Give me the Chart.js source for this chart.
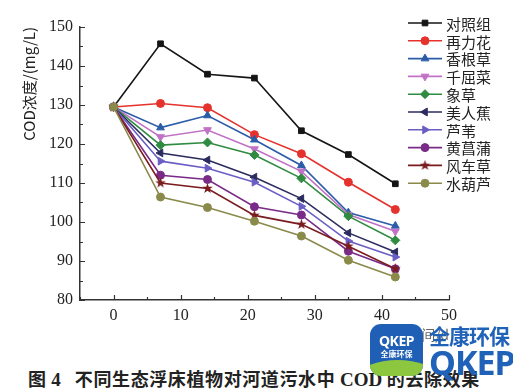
<!DOCTYPE html>
<html>
<head>
<meta charset="utf-8">
<script src="https://cdn.jsdelivr.net/npm/chart.js@4.4.1/dist/chart.umd.min.js"></script>
<style>
  body { margin: 0; background: #fff; }
  #wrap { position: relative; width: 513px; height: 390px; overflow: hidden; }
  #chart { position: absolute; left: 0; top: 0; }
  #caption { position: absolute; left: 28px; top: 365px; font-size: 18px; font-weight: bold; color: #222; white-space: nowrap;
    font-family: "Noto Sans CJK SC", sans-serif; letter-spacing: 0.6px; }
  #caption .n { font-family: "Liberation Serif", serif; font-size: 19px; letter-spacing: 0; }
  #logo { position: absolute; left: 370px; top: 324px; width: 53px; height: 52px; border-radius: 11px; overflow: hidden;
    background: #1f5fb5; font-family: "Noto Sans", sans-serif; color: #fff; text-align: center; }
  #logo .g { position: absolute; left: -10px; top: 36px; width: 75px; height: 30px; border-radius: 50% 50% 0 0; background: #8dc63f; }
  #logo .a { position: absolute; left: 0; width: 53px; top: 7px; font-size: 14px; font-weight: bold; letter-spacing: -0.5px; }
  #logo .b { position: absolute; left: 0; width: 53px; top: 24px; font-size: 8px; font-weight: bold; font-family: "Noto Sans CJK SC", sans-serif; }
  #brand1 { position: absolute; left: 429px; top: 320px; font-size: 21px; font-weight: bold; color: #1f62b8; font-family: "Noto Sans CJK SC", sans-serif; letter-spacing: -1px; }
  #brand2 { position: absolute; left: 429px; top: 339px; font-size: 34px; font-weight: bold; color: #1f62b8; font-family: "Noto Sans", sans-serif; letter-spacing: -1px; }
</style>
</head>
<body>
<div id="wrap">
  <canvas id="chart" width="513" height="346"></canvas>
  <div id="caption">图 <span class="n">4</span>&nbsp;&nbsp;&nbsp;不同生态浮床植物对河道污水中 <span class="n">COD</span> 的去除效果</div>
  <div id="logo"><div class="g"></div><div class="a">QKEP</div><div class="b">全康环保</div></div>
  <div id="brand1">全康环保</div>
  <div id="brand2">QKEP</div>
</div>
<script>
const ctx = document.getElementById('chart');

// sampling days
const days = [0, 7, 14, 21, 28, 35, 42];

const names = ['对照组', '再力花', '香根草', '千屈菜', '象草', '美人蕉', '芦苇', '黄菖蒲', '风车草', '水葫芦'];

// COD (mg/L)
const control   = [129.5, 145.7, 137.9, 136.9, 123.4, 117.3, 109.8];
const zailihua  = [129.5, 130.4, 129.3, 122.4, 117.5, 110.2, 103.2];
const xianggen  = [129.5, 124.2, 127.3, 121.1, 114.5, 102.4, 99.0];
const qianqu    = [129.5, 121.8, 123.6, 118.7, 113.0, 101.9, 97.6];
const xiangcao  = [129.5, 119.7, 120.4, 117.2, 111.2, 101.5, 95.3];
const meirenjiao = [129.5, 117.7, 115.9, 111.5, 106.0, 97.2, 92.3];
const luwei     = [129.5, 115.6, 113.8, 110.2, 104.0, 95.1, 91.0];
const huangchangpu = [129.5, 112.0, 110.9, 103.9, 101.8, 92.5, 88.0];
const fengche   = [129.5, 110.0, 108.6, 101.7, 99.4, 93.8, 88.0];
const shuihulu  = [129.5, 106.4, 103.7, 100.2, 96.4, 90.2, 85.9];

const series = [control, zailihua, xianggen, qianqu, xiangcao, meirenjiao, luwei, huangchangpu, fengche, shuihulu];
const colors = ['#151515', '#e5322d', '#2b5ca8', '#c172c6', '#2f8b40', '#2b2c5e', '#6a5ec4', '#7a2b87', '#7a1b1e', '#8a8a4b'];

// five point star marker
function makeStar(color) {
  const c = document.createElement('canvas');
  c.width = 11; c.height = 11;
  const g = c.getContext('2d');
  g.fillStyle = color;
  g.beginPath();
  for (let i = 0; i < 10; i++) {
    const r = i % 2 ? 2.2 : 5.5;
    const a = -Math.PI / 2 + i * Math.PI / 5;
    g.lineTo(5.5 + r * Math.cos(a), 5.5 + r * Math.sin(a));
  }
  g.closePath();
  g.fill();
  return c;
}

const styles = [
  { pointStyle: 'rect', rotation: 0, radius: 4 },
  { pointStyle: 'circle', rotation: 0, radius: 4 },
  { pointStyle: 'triangle', rotation: 0, radius: 4.5 },
  { pointStyle: 'triangle', rotation: 180, radius: 4.5 },
  { pointStyle: 'rectRot', rotation: 0, radius: 4.5 },
  { pointStyle: 'triangle', rotation: -90, radius: 4.5 },
  { pointStyle: 'triangle', rotation: 90, radius: 4.5 },
  { pointStyle: 'circle', rotation: 0, radius: 4 },
  { pointStyle: makeStar(colors[8]), rotation: 0, radius: 5 },
  { pointStyle: 'circle', rotation: 0, radius: 4 }
];

const datasets = series.map((s, i) => ({
  label: names[i],
  data: days.map((d, j) => ({ x: d, y: s[j] })),
  borderColor: colors[i],
  backgroundColor: colors[i],
  borderWidth: 1.6,
  pointStyle: styles[i].pointStyle,
  pointRotation: styles[i].rotation,
  pointRadius: styles[i].radius,
  pointBorderWidth: 1,
  order: 9 - i
}));

// inward ticks on both axes
const inTicks = {
  id: 'inTicks',
  afterDraw(chart) {
    const c = chart.ctx, a = chart.chartArea;
    const xs = chart.scales.x, ys = chart.scales.y;
    c.save();
    c.strokeStyle = '#333';
    c.lineWidth = 1.2;
    c.beginPath();
    for (let v = 80; v <= 150; v += 5) {
      const y = Math.round(ys.getPixelForValue(v)) + 0.5;
      c.moveTo(a.left, y); c.lineTo(a.left + (v % 10 ? 3 : 5), y);
    }
    for (let v = -5; v <= 50; v += 5) {
      const x = Math.round(xs.getPixelForValue(v)) + 0.5;
      c.moveTo(x, a.bottom); c.lineTo(x, a.bottom - (v % 10 ? 3 : 5));
    }
    c.stroke();
    c.restore();
  }
};

// legend drawn over the plot, top right
const sideLegend = {
  id: 'sideLegend',
  afterDraw(chart) {
    const c = chart.ctx;
    c.save();
    c.font = '15px "Noto Sans CJK SC", sans-serif';
    c.textBaseline = 'middle';
    names.forEach((n, i) => {
      const y = 23 + i * 17.8;
      c.strokeStyle = colors[i];
      c.fillStyle = colors[i];
      c.lineWidth = 1.6;
      c.beginPath(); c.moveTo(408, y); c.lineTo(442, y); c.stroke();
      c.lineWidth = 1;
      Chart.helpers.drawPoint(c, { pointStyle: styles[i].pointStyle, rotation: styles[i].rotation, radius: styles[i].radius, borderWidth: 1 }, 425, y);
      c.fillStyle = '#222';
      c.fillText(n, 446, y + 1);
    });
    c.restore();
  }
};

new Chart(ctx, {
  type: 'line',
  data: { datasets: datasets },
  options: {
    responsive: false,
    animation: false,
    layout: { padding: { top: 27, right: 64, left: 0, bottom: 0 } },
    plugins: { legend: { display: false }, tooltip: { enabled: false } },
    scales: {
      x: {
        type: 'linear',
        min: -5, max: 50,
        afterFit(s) { s.height = 46; },
        grid: { display: false, drawTicks: false },
        border: { display: true, color: '#333', width: 1.5 },
        ticks: { stepSize: 10, padding: 6, color: '#222', font: { family: 'Liberation Serif', size: 16 },
          callback: v => (v % 10 === 0 ? v : '') },
        title: { display: true, text: '时间/d', align: 'end', color: '#666',
          font: { family: 'Noto Sans CJK SC', size: 14 }, padding: { top: 0, bottom: 3 } }
      },
      y: {
        min: 80, max: 150,
        afterFit(s) { s.width = 80; },
        grid: { display: false, drawTicks: false },
        border: { display: true, color: '#333', width: 1.5 },
        ticks: { stepSize: 10, padding: 7, color: '#222', font: { family: 'Liberation Serif', size: 16 } },
        title: { display: true, text: 'COD浓度/(mg/L)', align: 'end', color: '#222',
          font: { family: 'Noto Sans CJK SC', size: 15 }, padding: { top: 20, bottom: 0 } }
      }
    }
  },
  plugins: [inTicks, sideLegend]
});
</script>
</body>
</html>
